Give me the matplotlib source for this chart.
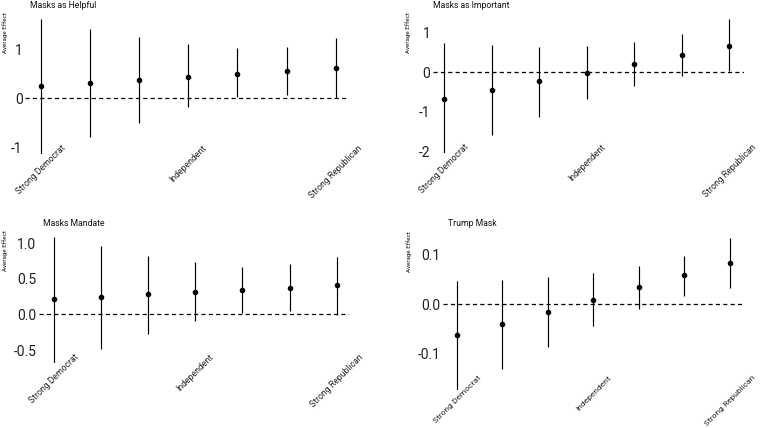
import matplotlib
matplotlib.use("Agg")
import matplotlib.pyplot as plt
import numpy as np

plt.rcParams['font.family'] = ['Roboto', 'DejaVu Sans']
plt.rcParams['axes.unicode_minus'] = False
plt.rcParams['lines.scale_dashes'] = False

x_pos = [1, 2, 3, 4, 5, 6, 7]
tick_positions = [1, 4, 7]
tick_labels = ["Strong Democrat", "Independent", "Strong Republican"]

titles = ["Masks as Helpful", "Masks as Important", "Masks Mandate", "Trump Mask"]

helpful_est = [0.245, 0.31, 0.37, 0.43, 0.50, 0.56, 0.62]
helpful_lo = [-1.14, -0.80, -0.50, -0.19, 0.02, 0.07, 0.00]
helpful_hi = [1.61, 1.41, 1.24, 1.10, 1.02, 1.04, 1.22]

important_est = [-0.68, -0.46, -0.23, -0.01, 0.21, 0.44, 0.66]
important_lo = [-2.05, -1.58, -1.12, -0.68, -0.34, -0.09, 0.02]
important_hi = [0.73, 0.70, 0.64, 0.67, 0.76, 0.98, 1.34]

mandate_est = [0.215, 0.247, 0.28, 0.31, 0.34, 0.37, 0.41]
mandate_lo = [-0.68, -0.49, -0.27, -0.09, 0.02, 0.05, -0.01]
mandate_hi = [1.08, 0.96, 0.82, 0.73, 0.67, 0.71, 0.80]

trump_est = [-0.063, -0.039, -0.015, 0.009, 0.034, 0.058, 0.082]
trump_lo = [-0.172, -0.130, -0.086, -0.044, -0.010, 0.017, 0.033]
trump_hi = [0.046, 0.048, 0.054, 0.062, 0.076, 0.097, 0.133]

yticks = [[-1, 0, 1], [-2, -1, 0, 1], [-0.5, 0.0, 0.5, 1.0], [-0.1, 0.0, 0.1]]
yfmt = ["{:.0f}", "{:.0f}", "{:.1f}", "{:.1f}"]

series = [
    (helpful_est, helpful_lo, helpful_hi),
    (important_est, important_lo, important_hi),
    (mandate_est, mandate_lo, mandate_hi),
    (trump_est, trump_lo, trump_hi),
]

W, H = 762, 428
fig = plt.figure(figsize=(W / 100, H / 100), dpi=100)

# layout in pixels: (x of first point, x of last point, left, right, top, bottom)
layout = [
    (40.5, 335.7, 25.0, 349.0, 19.3, 154.0),
    (444.3, 729.3, 432.7, 744.3, 19.3, 153.3),
    (54.0, 336.7, 39.0, 349.0, 237.3, 363.0),
    (457.0, 729.7, 442.7, 744.3, 238.0, 389.7),
]
xlabel_pad = [-7.6, -7.6, -7.6, -11.0]
xlabel_size = [6.2, 6.2, 6.2, 6.0]
title_pos = [(30, 6), (432.7, 6), (43.3, 223), (447.7, 223)]
ylab_pos = [(5, 33), (407.7, 33), (5, 251), (409, 252)]

for i, (est, lo, hi) in enumerate(series):
    a, b, left, right, top, bottom = layout[i]
    ax = fig.add_axes([left / W, 1 - bottom / H, (right - left) / W, (bottom - top) / H])
    u = (b - a) / 6.0
    ax.set_xlim(1 - (a - left) / u, 7 + (right - b) / u)
    ax.set_ylim(min(lo), max(hi))
    ax.axhline(0, color='black', lw=0.9, dashes=(3.0, 2.3), zorder=1)
    ax.vlines(x_pos, lo, hi, color='black', lw=0.85, zorder=2)
    ax.plot(x_pos, est, 'o', color='black', markersize=3.0, zorder=3)
    for s in ax.spines.values():
        s.set_visible(False)
    ax.set_facecolor('none')
    ax.set_xticks(tick_positions)
    ax.set_xticklabels(tick_labels, rotation=45, ha='center', va='top',
                       fontsize=xlabel_size[i], color='#222222')
    ax.tick_params(axis='x', length=0, pad=xlabel_pad[i])
    ax.set_yticks(yticks[i])
    ax.set_yticklabels([yfmt[i].format(v) for v in yticks[i]], fontsize=10, color='#222222')
    ax.tick_params(axis='y', length=0, pad=1.8)
    tx, ty = title_pos[i]
    fig.text(tx / W, 1 - ty / H, titles[i], ha='left', va='center', fontsize=6.2, color='#111111')
    lx, ly = ylab_pos[i]
    fig.text(lx / W, 1 - ly / H, "Average Effect", ha='center', va='center', rotation=90,
             fontsize=4.5, color='#111111')

fig.savefig("out.png", dpi=100)
